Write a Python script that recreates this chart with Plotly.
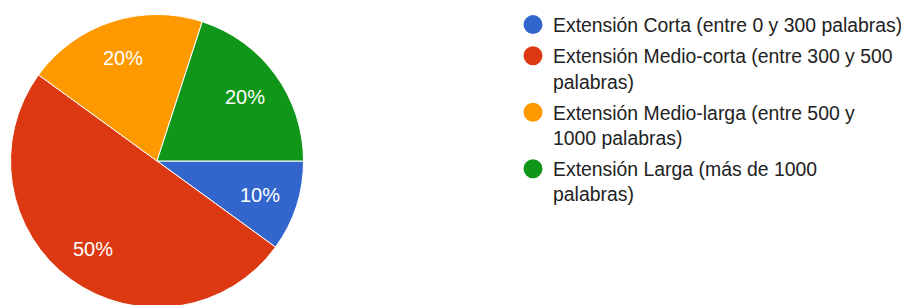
import math
import plotly.graph_objects as go

labels = [
    "Extensión Corta (entre 0 y 300 palabras)",
    "Extensión Medio-corta (entre 300 y 500<br>palabras)",
    "Extensión Medio-larga (entre 500 y<br>1000 palabras)",
    "Extensión Larga (más de 1000<br>palabras)",
]
values = [1, 5, 2, 2]
colors = ["#3366CC", "#DC3912", "#FF9900", "#109618"]

W, H = 909, 305
# page body margin offsets the figure by 8px; compensate
dom_x = [2.5 / W, 295.5 / W]
dom_y = [5.5 / H, 298.5 / H]
R_PX = 146.5
LABEL_R = 0.74

fig = go.Figure()
fig.add_trace(go.Pie(
    labels=labels,
    values=values,
    sort=False,
    direction="clockwise",
    rotation=90,
    marker=dict(colors=colors, line=dict(color="white", width=1)),
    textinfo="none",
    showlegend=False,
    hoverinfo="label+percent",
    domain=dict(x=dom_x, y=dom_y),
))

# legend entries with circular swatches
for i, (lab, col) in enumerate(zip(labels, colors)):
    fig.add_trace(go.Scatter(
        x=[None], y=[None], mode="markers", name=lab,
        legendgroup=f"g{i}",
        marker=dict(color=col, size=16, symbol="circle",
                    line=dict(color=col, width=3)),
        showlegend=True,
    ))

# percentage labels placed along each slice's bisector
total = sum(values)
cx = (dom_x[0] + dom_x[1]) / 2
cy = (dom_y[0] + dom_y[1]) / 2
cum = 0.0
annotations = []
for v in values:
    mid = (cum + v / 2) / total
    cum += v
    ang = 2 * math.pi * mid  # clockwise from 3 o'clock
    dx = LABEL_R * R_PX * math.cos(ang) / W
    dy = -LABEL_R * R_PX * math.sin(ang) / H
    annotations.append(dict(
        x=cx + dx, y=cy + dy, xref="paper", yref="paper",
        text=f"{round(100 * v / total)}%", showarrow=False,
        xanchor="center", yanchor="middle",
        font=dict(family="Arial", size=20, color="white"),
    ))

fig.update_layout(
    width=W, height=H,
    margin=dict(l=0, r=0, t=0, b=0, autoexpand=False),
    paper_bgcolor="white",
    plot_bgcolor="white",
    xaxis=dict(visible=False),
    yaxis=dict(visible=False),
    annotations=annotations,
    legend=dict(
        x=505 / W, y=1 + 2.5 / H, xanchor="left", yanchor="top",
        maxheight=300,
        valign="top",
        font=dict(family="Arial", size=19.4, color="#222222"),
        bgcolor="rgba(0,0,0,0)",
        traceorder="grouped", tracegroupgap=3,
        itemclick=False, itemdoubleclick=False,
    ),
    font=dict(family="Arial"),
)

fig.write_html("out.html")
